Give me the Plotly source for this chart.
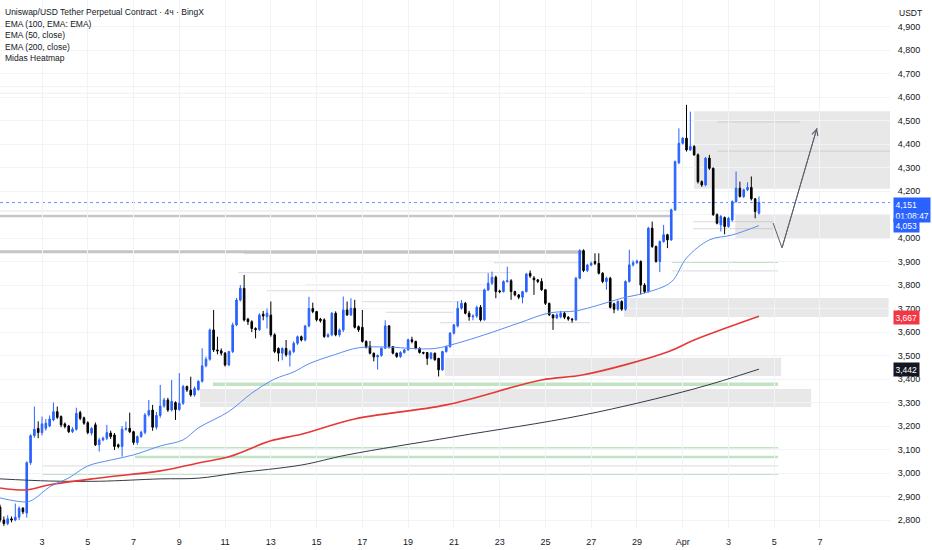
import plotly.graph_objects as go

# 4h candles (bar 0 = day 1, 04:00)
opens = [2855, 2800, 2785, 2805, 2800, 2812, 2850, 2830, 3044, 3159,
         3190, 3172, 3190, 3200, 3226, 3261, 3240, 3209, 3200, 3176,
         3186, 3257, 3235, 3214, 3170, 3205, 3120, 3141, 3148, 3170,
         3162, 3120, 3113, 3186, 3190, 3176, 3130, 3155, 3173, 3247,
         3268, 3195, 3245, 3285, 3311, 3268, 3300, 3270, 3297, 3368,
         3353, 3332, 3355, 3390, 3456, 3484, 3609, 3524, 3520, 3510,
         3460, 3517, 3630, 3736, 3786, 3655, 3644, 3615, 3610, 3676,
         3665, 3672, 3588, 3530, 3510, 3530, 3503, 3517, 3552, 3580,
         3566, 3626, 3700, 3687, 3655, 3652, 3581, 3588, 3680, 3588,
         3609, 3694, 3673, 3701, 3623, 3620, 3560, 3540, 3510, 3494,
         3500, 3531, 3626, 3538, 3510, 3496, 3513, 3524, 3567, 3560,
         3531, 3513, 3513, 3488, 3510, 3488, 3439, 3517, 3538, 3595,
         3626, 3701, 3722, 3680, 3665, 3668, 3705, 3652, 3779, 3808,
         3833, 3775, 3772, 3815, 3818, 3772, 3758, 3748, 3772, 3850,
         3830, 3822, 3815, 3780, 3722, 3673, 3660, 3665, 3680, 3663,
         3655, 3652, 3829, 3946, 3862, 3885, 3900, 3892, 3850, 3815,
         3829, 3720, 3697, 3730, 3697, 3815, 3886, 3895, 3900, 3800,
         3772, 4042, 3964, 3900, 3985, 4014, 3992, 4120, 4320, 4403,
         4425, 4375, 4390, 4354, 4240, 4226, 4340, 4297, 4099, 4056,
         4087, 4049, 4077, 4155, 4212, 4177, 4205, 4215, 4167, 4106]
highs = [2865, 2815, 2820, 2815, 2870, 2858, 2855, 3050, 3165, 3283,
         3220, 3240, 3230, 3245, 3300, 3283, 3245, 3215, 3205, 3195,
         3278, 3265, 3240, 3220, 3195, 3215, 3150, 3155, 3205, 3180,
         3170, 3125, 3200, 3219, 3257, 3180, 3160, 3180, 3255, 3311,
         3290, 3260, 3375, 3320, 3320, 3396, 3305, 3425, 3375, 3372,
         3410, 3368, 3395, 3531, 3495, 3615, 3694, 3580, 3530, 3515,
         3520, 3640, 3745, 3800, 3843, 3660, 3650, 3620, 3680, 3690,
         3700, 3730, 3595, 3535, 3535, 3566, 3525, 3560, 3585, 3585,
         3630, 3750, 3725, 3690, 3660, 3658, 3595, 3685, 3688, 3615,
         3751, 3730, 3744, 3737, 3628, 3694, 3565, 3562, 3512, 3505,
         3535, 3650, 3630, 3540, 3512, 3518, 3528, 3572, 3580, 3563,
         3535, 3516, 3515, 3515, 3512, 3490, 3520, 3542, 3600, 3635,
         3730, 3736, 3728, 3690, 3675, 3712, 3715, 3785, 3850, 3857,
         3840, 3780, 3820, 3878, 3825, 3776, 3762, 3775, 3852, 3862,
         3838, 3825, 3829, 3782, 3725, 3675, 3680, 3690, 3686, 3668,
         3660, 3835, 3952, 3952, 3890, 3900, 3935, 3935, 3855, 3835,
         3835, 3725, 3735, 3735, 3820, 3950, 3905, 3908, 3905, 3808,
         4048, 4070, 3968, 3990, 4056, 4018, 4125, 4330, 4467, 4430,
         4567, 4538, 4395, 4360, 4245, 4345, 4354, 4300, 4105, 4098,
         4092, 4090, 4160, 4283, 4240, 4210, 4237, 4262, 4170, 4177]
lows = [2790, 2775, 2778, 2790, 2795, 2800, 2825, 2810, 3035, 3150,
        3148, 3160, 3180, 3195, 3220, 3230, 3195, 3190, 3170, 3170,
        3180, 3225, 3205, 3165, 3160, 3115, 3091, 3135, 3140, 3145,
        3098, 3105, 3070, 3180, 3170, 3120, 3120, 3150, 3165, 3240,
        3180, 3185, 3235, 3278, 3260, 3262, 3226, 3265, 3290, 3345,
        3325, 3325, 3350, 3385, 3450, 3478, 3515, 3505, 3500, 3453,
        3455, 3510, 3625, 3730, 3645, 3630, 3600, 3573, 3605, 3650,
        3615, 3580, 3510, 3475, 3480, 3495, 3453, 3510, 3545, 3560,
        3560, 3620, 3680, 3645, 3640, 3575, 3575, 3582, 3582, 3580,
        3600, 3668, 3668, 3615, 3600, 3555, 3530, 3505, 3475, 3440,
        3495, 3528, 3530, 3505, 3490, 3490, 3508, 3520, 3552, 3526,
        3508, 3505, 3460, 3483, 3478, 3411, 3435, 3512, 3533, 3590,
        3620, 3695, 3675, 3648, 3650, 3660, 3645, 3648, 3775, 3800,
        3744, 3765, 3768, 3810, 3737, 3752, 3740, 3722, 3768, 3830,
        3758, 3808, 3775, 3715, 3668, 3609, 3655, 3658, 3655, 3648,
        3640, 3648, 3825, 3855, 3855, 3880, 3885, 3845, 3808, 3780,
        3700, 3680, 3690, 3690, 3690, 3810, 3878, 3890, 3760, 3765,
        3768, 3958, 3895, 3855, 3980, 3957, 3988, 4115, 4315, 4398,
        4368, 4370, 4350, 4232, 4218, 4220, 4290, 4095, 4058, 4028,
        4016, 4044, 4070, 4150, 4172, 4170, 4200, 4160, 4084, 4100]
closes = [2800, 2785, 2805, 2800, 2812, 2850, 2835, 3044, 3159, 3186,
          3172, 3209, 3212, 3230, 3261, 3237, 3205, 3198, 3176, 3186,
          3254, 3233, 3212, 3172, 3190, 3120, 3141, 3148, 3172, 3155,
          3113, 3113, 3186, 3190, 3176, 3130, 3155, 3173, 3247, 3266,
          3195, 3245, 3285, 3311, 3268, 3305, 3270, 3297, 3368, 3353,
          3332, 3360, 3390, 3456, 3484, 3609, 3524, 3520, 3510, 3460,
          3517, 3630, 3736, 3786, 3651, 3644, 3615, 3610, 3672, 3668,
          3680, 3588, 3517, 3510, 3530, 3503, 3517, 3552, 3580, 3566,
          3626, 3700, 3687, 3652, 3648, 3581, 3588, 3680, 3588, 3609,
          3694, 3673, 3701, 3620, 3609, 3560, 3535, 3510, 3494, 3500,
          3531, 3626, 3538, 3510, 3496, 3513, 3524, 3567, 3560, 3531,
          3513, 3510, 3488, 3510, 3482, 3439, 3517, 3538, 3595, 3630,
          3701, 3722, 3680, 3665, 3668, 3705, 3652, 3779, 3808, 3833,
          3772, 3772, 3815, 3818, 3772, 3758, 3748, 3772, 3847, 3838,
          3822, 3815, 3780, 3722, 3673, 3660, 3673, 3680, 3663, 3655,
          3652, 3829, 3946, 3862, 3885, 3892, 3892, 3850, 3815, 3829,
          3705, 3697, 3730, 3697, 3815, 3886, 3895, 3902, 3800, 3772,
          4042, 3964, 3900, 3985, 4014, 3992, 4120, 4325, 4403, 4425,
          4375, 4390, 4354, 4240, 4226, 4340, 4297, 4099, 4063, 4092,
          4049, 4084, 4155, 4212, 4177, 4205, 4215, 4167, 4113, 4151]

# EMA readings (bar index, value)
ema50_bar = [0, 7, 9, 13, 18, 23, 29, 35, 42, 48, 52, 60, 66, 72, 77, 81, 88,
             94, 102, 108, 114, 120, 127, 136, 144, 151, 157, 163, 169, 176,
             180, 186, 192, 199]
ema50_val = [2894, 2877, 2890, 2941, 2979, 3030, 3055, 3077, 3115, 3141, 3192,
             3262, 3340, 3400, 3430, 3465, 3505, 3533, 3536, 3530, 3530, 3553,
             3588, 3638, 3681, 3690, 3715, 3744, 3766, 3813, 3915, 3992, 4013,
             4053]
ema100_bar = [0, 7, 13, 26, 42, 52, 60, 71, 79, 93, 117, 142, 153, 175, 182, 199]
ema100_val = [2936, 2928, 2950, 2979, 3009, 3043, 3069, 3137, 3165, 3230, 3290,
              3396, 3418, 3515, 3566, 3667]
ema200_bar = [0, 13, 26, 42, 52, 62, 79, 91, 119, 153, 182, 199]
ema200_val = [2975, 2966, 2965, 2975, 2978, 3000, 3034, 3077, 3154, 3247, 3358,
              3442]

# x axis labels (day numbers)
day_ticks = [3, 5, 7, 9, 11, 13, 15, 17, 19, 21, 23, 25, 27, 29, 31, 33, 35, 37]
day_labels = ["3", "5", "7", "9", "11", "13", "15", "17", "19", "21", "23",
              "25", "27", "29", "Apr", "3", "5", "7"]
price_ticks = [2800, 2900, 3000, 3100, 3200, 3300, 3400, 3500, 3600, 3700,
               3800, 3900, 4000, 4100, 4200, 4300, 4400, 4500, 4600, 4700,
               4800, 4900]
# 4,100 sits under the last-price tag
price_labels = ["2,800", "2,900", "3,000", "3,100", "3,200", "3,300", "3,400",
                "3,500", "3,600", "3,700", "3,800", "3,900", "4,000", "",
                "4,200", "4,300", "4,400", "4,500", "4,600", "4,700", "4,800",
                "4,900"]

# Midas heatmap zones (price low, price high, from day, to day)
zone_lo = [4210, 4000, 3664, 3413, 3281]
zone_hi = [4540, 4098, 3745, 3490, 3358]
zone_from = [31.5, 33.3, 28.44, 20.61, 9.90]
zone_to = [40.1, 40.1, 40.0, 35.3, 36.61]

# heatmap levels
band_level = [4095, 3942]
band_from = [1.1, 1.1]
band_to = [30.54, 26.73]
faint_level = [4115, 3935, 3895, 3853, 3800, 3776, 3729, 3684,
               3640, 3860, 4070, 4040, 4370, 4494, 3030]
faint_from = [1.1, 11.83, 22.75, 11.57, 14.54, 12.83, 17.03, 18.03,
              20.4, 30.54, 31.45, 31.45, 32.5, 32.5, 3.0]
faint_to = [30.54, 26.73, 26.73, 23.5, 22.49, 22.49, 21.27, 21.01,
            26.95, 35.17, 34.95, 34.95, 40.1, 36.13, 35.17]
top_level = [4644, 4616]
top_from = [1.1, 1.1]
top_to = [35.04, 35.04]
green_level = [3378, 3107, 3068, 2995, 3898]
green_from = [10.47, 7.06, 7.06, 3.0, 30.54]
green_to = [35.17, 35.17, 35.17, 35.17, 35.17]
green_w = [3.5, 1.5, 2.5, 1.5, 2]

# projected path drawn on the chart
path_day = [34.95, 35.34, 36.87]
path_price = [4064, 3958, 4468]

t0 = 1 + 1 / 6
step = 1 / 6
x = [t0 + i * step for i in range(len(closes))]

FONT = "Liberation Sans, Arial"

fig = go.Figure()
fig.add_trace(go.Candlestick(
    x=x, open=opens, high=highs, low=lows, close=closes,
    increasing=dict(line=dict(color="#2962ff", width=1), fillcolor="#2962ff"),
    decreasing=dict(line=dict(color="#000000", width=1), fillcolor="#000000"),
    whiskerwidth=0, showlegend=False, hoverinfo="skip"))

for bars, vals, col, w in [(ema200_bar, ema200_val, "#363a45", 1),
                           (ema100_bar, ema100_val, "#e53935", 1.6),
                           (ema50_bar, ema50_val, "#5b8cf0", 1)]:
    fig.add_trace(go.Scatter(x=[t0 + b * step for b in bars], y=vals,
                             mode="lines", line=dict(color=col, width=w, shape="spline"),
                             showlegend=False, hoverinfo="skip"))

fig.add_trace(go.Scatter(x=path_day, y=path_price, mode="lines",
                         line=dict(color="#5d606b", width=1),
                         showlegend=False, hoverinfo="skip"))

shapes = []
for lo, hi, a, b in zip(zone_lo, zone_hi, zone_from, zone_to):
    shapes.append(dict(type="rect", xref="x", yref="y", x0=a, x1=b, y0=lo, y1=hi,
                       fillcolor="rgba(190,190,190,0.36)", line_width=0, layer="below"))
for lv, a, b in zip(band_level, band_from, band_to):
    shapes.append(dict(type="line", xref="x", yref="y", x0=a, x1=b, y0=lv, y1=lv,
                       line=dict(color="rgba(150,150,150,0.55)", width=3), layer="below"))
for lv, a, b in zip(faint_level, faint_from, faint_to):
    shapes.append(dict(type="line", xref="x", yref="y", x0=a, x1=b, y0=lv, y1=lv,
                       line=dict(color="rgba(170,170,170,0.35)", width=1.2), layer="below"))
for lv, a, b in zip(top_level, top_from, top_to):
    shapes.append(dict(type="line", xref="x", yref="y", x0=a, x1=b, y0=lv, y1=lv,
                       line=dict(color="rgba(180,180,180,0.2)", width=1), layer="below"))
for lv, a, b, w in zip(green_level, green_from, green_to, green_w):
    shapes.append(dict(type="line", xref="x", yref="y", x0=a, x1=b, y0=lv, y1=lv,
                       line=dict(color="rgba(76,175,80,0.35)", width=w), layer="below"))
shapes.append(dict(type="line", xref="paper", yref="y", x0=0, x1=1,
                   y0=closes[-1], y1=closes[-1],
                   line=dict(color="rgba(41,98,255,0.7)", width=1, dash="dot"),
                   layer="below"))

legend_lines = ["Uniswap/USD Tether Perpetual Contract · 4ч · BingX",
                "EMA (100, EMA: EMA)", "EMA (50, close)", "EMA (200, close)",
                "Midas Heatmap"]
annotations = []
for k, txt in enumerate(legend_lines):
    annotations.append(dict(xref="paper", yref="paper", x=0, y=1, xanchor="left",
                            yanchor="top", xshift=3, yshift=-5 - 11.5 * k,
                            text=txt, showarrow=False,
                            font=dict(family=FONT, size=8.5, color="#131722")))
annotations.append(dict(xref="paper", yref="paper", x=1, y=1, xanchor="left",
                        yanchor="top", xshift=7, yshift=-6, text="USDT",
                        showarrow=False, font=dict(family=FONT, size=8.5, color="#131722")))
annotations.append(dict(x=path_day[2], y=path_price[2], ax=path_day[1], ay=path_price[1],
                        xref="x", yref="y", axref="x", ayref="y", text="",
                        showarrow=True, arrowhead=5, arrowsize=1.2, arrowwidth=1,
                        arrowcolor="#5d606b"))

tags = [(closes[-1], "4,151<br>01:08:47", "#2962ff", -7),
        (ema50_val[-1], "4,053", "#2962ff", 0),
        (ema100_val[-1], "3,667", "#f23645", -1),
        (ema200_val[-1], "3,442", "#131722", 0)]
for val, txt, col, ys in tags:
    annotations.append(dict(xref="paper", yref="y", x=1, y=val, xanchor="left",
                            yanchor="middle", xshift=3, yshift=ys, text=txt,
                            showarrow=False, align="left", bgcolor=col, borderpad=1.5,
                            font=dict(family=FONT, size=8.5, color="#ffffff")))

fig.update_layout(
    width=932, height=550,
    margin=dict(l=0, r=42, t=0, b=22),
    paper_bgcolor="#ffffff", plot_bgcolor="#ffffff",
    boxgap=0.4,
    shapes=shapes, annotations=annotations,
    xaxis=dict(range=[1.164, 40.06], tickvals=day_ticks, ticktext=day_labels,
               showgrid=True, gridcolor="#f0f3fa", zeroline=False,
               rangeslider=dict(visible=False), ticks="outside", ticklen=5,
               tickcolor="rgba(0,0,0,0)",
               tickfont=dict(family=FONT, size=9, color="#131722")),
    yaxis=dict(range=[2766, 5013], side="right", tickvals=price_ticks,
               ticktext=price_labels, showgrid=True, gridcolor="#f0f3fa",
               zeroline=False, ticks="outside", ticklen=5,
               tickcolor="rgba(0,0,0,0)",
               tickfont=dict(family=FONT, size=9, color="#131722")),
)

fig.write_html("out.html", config={"displayModeBar": False},
               post_script="document.body.style.margin='0';")
